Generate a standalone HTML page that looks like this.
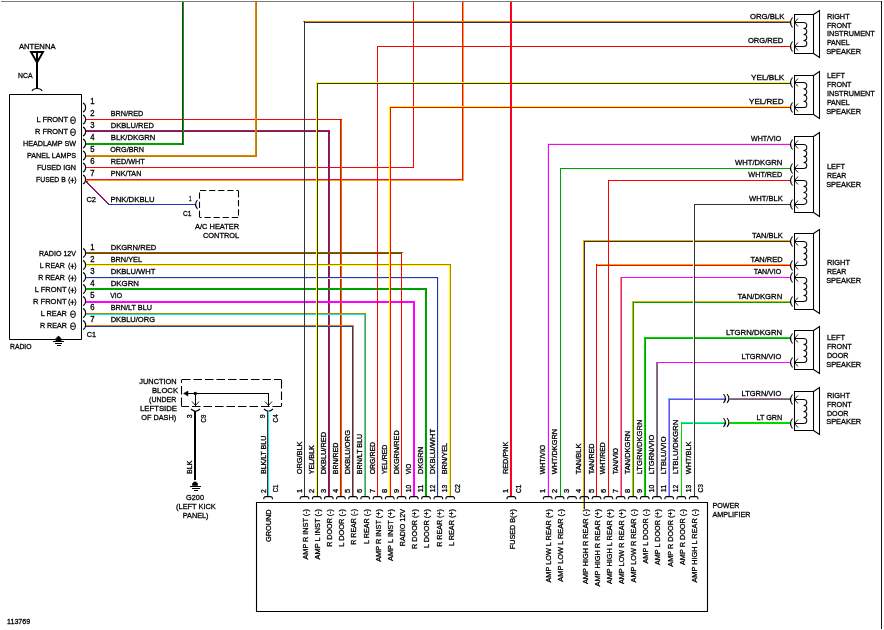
<!DOCTYPE html>
<html><head><meta charset="utf-8"><style>
html,body{margin:0;padding:0;background:#fff;}
svg{display:block;}
text{font-family:"Liberation Sans",Arial,sans-serif;fill:#000;}
.t text{stroke:#000;stroke-width:0.3px;}
rect{shape-rendering:crispEdges;}
</style></head><body>
<svg width="884" height="630" viewBox="0 0 884 630">
<rect width="884" height="630" fill="#fff"/>
<rect x="1" y="1" width="881" height="1" fill="#7a7a7a"/>
<rect x="881" y="1" width="1" height="628" fill="#111"/>
<path d="M31,52 L43,52 L37,62.5 Z" stroke="#000" stroke-width="1.9" fill="none" />
<rect x="36" y="52" width="1" height="37" fill="#000"/>
<rect x="37" y="52" width="1" height="37" fill="#000"/>
<path d="M32,91 Q33,88.5 37,88.5 Q41,88.5 42,91" stroke="#000" stroke-width="1.1" fill="none" />
<path d="M9.5,94.5 H81.5 V339.5 H9.5 Z" stroke="#000" stroke-width="1" fill="none" />
<path d="M56,341 L56,338.5 L58.5,336 L61,338.5 L61,341 Z" stroke="#000" stroke-width="0.8" fill="#000" />
<rect x="53" y="341" width="11" height="1" fill="#000"/>
<rect x="55" y="343" width="7" height="1" fill="#000"/>
<rect x="57" y="345" width="4" height="1" fill="#000"/>
<path d="M83,103.0 C86.5,104.5 86.5,110.5 83,112.0" stroke="#000" stroke-width="1.1" fill="none" />
<path d="M83,115.0 C86.5,116.5 86.5,122.5 83,124.0" stroke="#000" stroke-width="1.1" fill="none" />
<path d="M83,127.0 C86.5,128.5 86.5,134.5 83,136.0" stroke="#000" stroke-width="1.1" fill="none" />
<path d="M83,139.0 C86.5,140.5 86.5,146.5 83,148.0" stroke="#000" stroke-width="1.1" fill="none" />
<path d="M83,151.0 C86.5,152.5 86.5,158.5 83,160.0" stroke="#000" stroke-width="1.1" fill="none" />
<path d="M83,163.0 C86.5,164.5 86.5,170.5 83,172.0" stroke="#000" stroke-width="1.1" fill="none" />
<path d="M83,175.0 C86.5,176.5 86.5,182.5 83,184.0" stroke="#000" stroke-width="1.1" fill="none" />
<ellipse cx="73" cy="120.2" rx="2.4" ry="3.4" stroke="#000" stroke-width="1" fill="none"/>
<path d="M71,120.2 H74.6" stroke="#000" stroke-width="1"/>
<ellipse cx="73" cy="132.2" rx="2.4" ry="3.4" stroke="#000" stroke-width="1" fill="none"/>
<path d="M71,132.2 H74.6" stroke="#000" stroke-width="1"/>
<path d="M69.9,176.70000000000002 Q67.3,180.3 69.9,183.9 M74.7,176.70000000000002 Q77.3,180.3 74.7,183.9 M70.3,180.3 H74.4 M72.35,177.70000000000002 V182.9" stroke="#000" stroke-width="0.95" fill="none"/>
<path d="M83,248.5 C86.5,250 86.5,256 83,257.5" stroke="#000" stroke-width="1.1" fill="none" />
<path d="M83,260.5 C86.5,262 86.5,268 83,269.5" stroke="#000" stroke-width="1.1" fill="none" />
<path d="M83,272.5 C86.5,274 86.5,280 83,281.5" stroke="#000" stroke-width="1.1" fill="none" />
<path d="M83,284.5 C86.5,286 86.5,292 83,293.5" stroke="#000" stroke-width="1.1" fill="none" />
<path d="M83,296.5 C86.5,298 86.5,304 83,305.5" stroke="#000" stroke-width="1.1" fill="none" />
<path d="M83,308.5 C86.5,310 86.5,316 83,317.5" stroke="#000" stroke-width="1.1" fill="none" />
<path d="M83,320.5 C86.5,322 86.5,328 83,329.5" stroke="#000" stroke-width="1.1" fill="none" />
<path d="M69.9,262.7 Q67.3,266.3 69.9,269.90000000000003 M74.7,262.7 Q77.3,266.3 74.7,269.90000000000003 M70.3,266.3 H74.4 M72.35,263.7 V268.90000000000003" stroke="#000" stroke-width="0.95" fill="none"/>
<path d="M69.9,274.7 Q67.3,278.3 69.9,281.90000000000003 M74.7,274.7 Q77.3,278.3 74.7,281.90000000000003 M70.3,278.3 H74.4 M72.35,275.7 V280.90000000000003" stroke="#000" stroke-width="0.95" fill="none"/>
<path d="M69.9,286.7 Q67.3,290.3 69.9,293.90000000000003 M74.7,286.7 Q77.3,290.3 74.7,293.90000000000003 M70.3,290.3 H74.4 M72.35,287.7 V292.90000000000003" stroke="#000" stroke-width="0.95" fill="none"/>
<path d="M69.9,298.7 Q67.3,302.3 69.9,305.90000000000003 M74.7,298.7 Q77.3,302.3 74.7,305.90000000000003 M70.3,302.3 H74.4 M72.35,299.7 V304.90000000000003" stroke="#000" stroke-width="0.95" fill="none"/>
<ellipse cx="73" cy="314.2" rx="2.4" ry="3.4" stroke="#000" stroke-width="1" fill="none"/>
<path d="M71,314.2 H74.6" stroke="#000" stroke-width="1"/>
<ellipse cx="73" cy="326.2" rx="2.4" ry="3.4" stroke="#000" stroke-width="1" fill="none"/>
<path d="M71,326.2 H74.6" stroke="#000" stroke-width="1"/>
<rect x="86" y="119" width="256" height="1" fill="#ff0000"/>
<rect x="86" y="130" width="244" height="1" fill="#ff0000"/>
<rect x="86" y="131" width="243" height="1" fill="#1838c0"/>
<rect x="86" y="143" width="98" height="1" fill="#00a000"/>
<rect x="86" y="144" width="98" height="1" fill="#00a000"/>
<rect x="182" y="2" width="1" height="143" fill="#333333"/>
<rect x="183" y="2" width="1" height="143" fill="#00a000"/>
<rect x="86" y="155" width="170" height="1" fill="#e88000"/>
<rect x="86" y="156" width="171" height="1" fill="#b08000"/>
<rect x="255" y="2" width="1" height="154" fill="#e88000"/>
<rect x="256" y="2" width="1" height="155" fill="#b08000"/>
<rect x="86" y="167" width="328" height="1" fill="#ff0000"/>
<rect x="413" y="2" width="1" height="166" fill="#ff0000"/>
<rect x="86" y="179" width="377" height="1" fill="#ff0040"/>
<rect x="86" y="180" width="378" height="1" fill="#e8b000"/>
<rect x="462" y="2" width="1" height="178" fill="#ff0040"/>
<rect x="463" y="2" width="1" height="179" fill="#e8b000"/>
<rect x="340" y="119" width="1" height="378" fill="#ff0000"/>
<rect x="341" y="120" width="1" height="377" fill="#b08000"/>
<rect x="328" y="131" width="1" height="366" fill="#1838c0"/>
<rect x="329" y="130" width="1" height="367" fill="#ff0000"/>
<rect x="86" y="181" width="1" height="1" fill="#1838c0"/>
<rect x="87" y="181" width="1" height="1" fill="#ff0000"/>
<rect x="86" y="182" width="1" height="1" fill="#1838c0"/>
<rect x="87" y="182" width="1" height="1" fill="#ff0000"/>
<rect x="87" y="183" width="1" height="1" fill="#1838c0"/>
<rect x="88" y="183" width="1" height="1" fill="#ff0000"/>
<rect x="88" y="184" width="1" height="1" fill="#1838c0"/>
<rect x="89" y="184" width="1" height="1" fill="#ff0000"/>
<rect x="89" y="185" width="1" height="1" fill="#1838c0"/>
<rect x="90" y="185" width="1" height="1" fill="#ff0000"/>
<rect x="90" y="186" width="1" height="1" fill="#1838c0"/>
<rect x="91" y="186" width="1" height="1" fill="#ff0000"/>
<rect x="91" y="187" width="1" height="1" fill="#1838c0"/>
<rect x="92" y="187" width="1" height="1" fill="#ff0000"/>
<rect x="92" y="188" width="1" height="1" fill="#1838c0"/>
<rect x="93" y="188" width="1" height="1" fill="#ff0000"/>
<rect x="93" y="189" width="1" height="1" fill="#1838c0"/>
<rect x="94" y="189" width="1" height="1" fill="#ff0000"/>
<rect x="94" y="190" width="1" height="1" fill="#1838c0"/>
<rect x="95" y="190" width="1" height="1" fill="#ff0000"/>
<rect x="95" y="191" width="1" height="1" fill="#1838c0"/>
<rect x="96" y="191" width="1" height="1" fill="#ff0000"/>
<rect x="96" y="192" width="1" height="1" fill="#1838c0"/>
<rect x="97" y="192" width="1" height="1" fill="#ff0000"/>
<rect x="97" y="193" width="1" height="1" fill="#1838c0"/>
<rect x="98" y="193" width="1" height="1" fill="#ff0000"/>
<rect x="98" y="194" width="1" height="1" fill="#1838c0"/>
<rect x="99" y="194" width="1" height="1" fill="#ff0000"/>
<rect x="99" y="195" width="1" height="1" fill="#1838c0"/>
<rect x="100" y="195" width="1" height="1" fill="#ff0000"/>
<rect x="100" y="196" width="1" height="1" fill="#1838c0"/>
<rect x="101" y="196" width="1" height="1" fill="#ff0000"/>
<rect x="101" y="197" width="1" height="1" fill="#1838c0"/>
<rect x="102" y="197" width="1" height="1" fill="#ff0000"/>
<rect x="102" y="198" width="1" height="1" fill="#1838c0"/>
<rect x="103" y="198" width="1" height="1" fill="#ff0000"/>
<rect x="103" y="199" width="1" height="1" fill="#1838c0"/>
<rect x="104" y="199" width="1" height="1" fill="#ff0000"/>
<rect x="104" y="200" width="1" height="1" fill="#1838c0"/>
<rect x="105" y="200" width="1" height="1" fill="#ff0000"/>
<rect x="105" y="201" width="1" height="1" fill="#1838c0"/>
<rect x="106" y="201" width="1" height="1" fill="#ff0000"/>
<rect x="106" y="202" width="1" height="1" fill="#1838c0"/>
<rect x="107" y="202" width="1" height="1" fill="#ff0000"/>
<rect x="107" y="203" width="1" height="1" fill="#1838c0"/>
<rect x="108" y="203" width="1" height="1" fill="#ff0000"/>
<rect x="108" y="204" width="1" height="1" fill="#1838c0"/>
<rect x="109" y="204" width="1" height="1" fill="#ff0000"/>
<rect x="108" y="204" width="88" height="1" fill="#1838c0"/>
<path d="M199.5,190.5 L238.5,190.5" stroke="#000" stroke-width="1.1" fill="none" stroke-dasharray="6.2,2.9" stroke-dashoffset="-0.5"/>
<path d="M238.5,190.5 L238.5,217.5" stroke="#000" stroke-width="1.1" fill="none" stroke-dasharray="6.2,2.9" stroke-dashoffset="-0.5"/>
<path d="M238.5,217.5 L199.5,217.5" stroke="#000" stroke-width="1.1" fill="none" stroke-dasharray="6.2,2.9" stroke-dashoffset="-0.5"/>
<path d="M199.5,217.5 L199.5,190.5" stroke="#000" stroke-width="1.1" fill="none" stroke-dasharray="6.2,2.9" stroke-dashoffset="-0.5"/>
<path d="M197.5,200.0 Q193.5,204.5 197.5,209.0" stroke="#000" stroke-width="1.1" fill="none" />
<rect x="86" y="252" width="317" height="1" fill="#00a000"/>
<rect x="86" y="253" width="316" height="1" fill="#ff0000"/>
<rect x="86" y="264" width="365" height="1" fill="#b08000"/>
<rect x="86" y="265" width="364" height="1" fill="#ffff00"/>
<rect x="449" y="265" width="1" height="232" fill="#ffff00"/>
<rect x="450" y="264" width="1" height="233" fill="#b08000"/>
<rect x="86" y="277" width="353" height="1" fill="#1838c0"/>
<rect x="86" y="278" width="352" height="1" fill="#e6e6e6"/>
<rect x="437" y="277" width="1" height="220" fill="#1838c0"/>
<rect x="438" y="277" width="1" height="220" fill="#e6e6e6"/>
<rect x="86" y="288" width="341" height="1" fill="#00a000"/>
<rect x="86" y="289" width="341" height="1" fill="#00a000"/>
<rect x="425" y="288" width="1" height="209" fill="#00a000"/>
<rect x="426" y="288" width="1" height="209" fill="#00a000"/>
<rect x="86" y="301" width="329" height="1" fill="#ff00ff"/>
<rect x="86" y="302" width="329" height="1" fill="#ff00ff"/>
<rect x="413" y="301" width="1" height="196" fill="#ff00ff"/>
<rect x="414" y="301" width="1" height="196" fill="#ff00ff"/>
<rect x="86" y="313" width="280" height="1" fill="#b08000"/>
<rect x="86" y="314" width="279" height="1" fill="#00f0f0"/>
<rect x="364" y="314" width="1" height="183" fill="#00f0f0"/>
<rect x="365" y="313" width="1" height="184" fill="#b08000"/>
<rect x="86" y="325" width="268" height="1" fill="#e88000"/>
<rect x="86" y="326" width="267" height="1" fill="#1838c0"/>
<rect x="352" y="326" width="1" height="171" fill="#1838c0"/>
<rect x="353" y="325" width="1" height="172" fill="#e88000"/>
<rect x="401" y="253" width="1" height="244" fill="#ff0000"/>
<rect x="303" y="21" width="488" height="1" fill="#e88000"/>
<rect x="304" y="22" width="487" height="1" fill="#333333"/>
<rect x="304" y="21" width="1" height="476" fill="#333333"/>
<rect x="377" y="46" width="414" height="1" fill="#ff0000"/>
<rect x="377" y="46" width="1" height="451" fill="#ff0000"/>
<rect x="316" y="82" width="475" height="1" fill="#ffff00"/>
<rect x="317" y="83" width="474" height="1" fill="#333333"/>
<rect x="316" y="82" width="1" height="415" fill="#ffff00"/>
<rect x="317" y="83" width="1" height="414" fill="#333333"/>
<rect x="389" y="106" width="402" height="1" fill="#ffff00"/>
<rect x="390" y="107" width="401" height="1" fill="#ff0000"/>
<rect x="389" y="106" width="1" height="391" fill="#ffff00"/>
<rect x="390" y="107" width="1" height="390" fill="#ff0000"/>
<rect x="510" y="2" width="1" height="495" fill="#ff0000"/>
<rect x="511" y="2" width="1" height="495" fill="#ff0040"/>
<rect x="547" y="143" width="244" height="1" fill="#e6e6e6"/>
<rect x="548" y="144" width="243" height="1" fill="#ff00ff"/>
<rect x="547" y="143" width="1" height="354" fill="#e6e6e6"/>
<rect x="548" y="144" width="1" height="353" fill="#ff00ff"/>
<rect x="560" y="168" width="231" height="1" fill="#00a000"/>
<rect x="560" y="168" width="1" height="329" fill="#00a000"/>
<rect x="608" y="180" width="183" height="1" fill="#ff0000"/>
<rect x="694" y="204" width="97" height="1" fill="#333333"/>
<rect x="583" y="240" width="208" height="1" fill="#e8b000"/>
<rect x="584" y="241" width="207" height="1" fill="#333333"/>
<rect x="583" y="240" width="1" height="269" fill="#e8b000"/>
<rect x="584" y="241" width="1" height="268" fill="#333333"/>
<rect x="596" y="264" width="195" height="1" fill="#e8b000"/>
<rect x="596" y="265" width="195" height="1" fill="#ff0000"/>
<rect x="596" y="264" width="1" height="233" fill="#ff0000"/>
<rect x="620" y="277" width="171" height="1" fill="#ff00ff"/>
<rect x="620" y="277" width="1" height="220" fill="#e8b000"/>
<rect x="621" y="277" width="1" height="220" fill="#ff00ff"/>
<rect x="632" y="301" width="159" height="1" fill="#e8b000"/>
<rect x="633" y="302" width="158" height="1" fill="#00a000"/>
<rect x="632" y="301" width="1" height="196" fill="#e8b000"/>
<rect x="633" y="302" width="1" height="195" fill="#00a000"/>
<rect x="644" y="337" width="147" height="1" fill="#00d800"/>
<rect x="645" y="338" width="146" height="1" fill="#00a000"/>
<rect x="644" y="337" width="1" height="160" fill="#00d800"/>
<rect x="645" y="338" width="1" height="159" fill="#00a000"/>
<rect x="656" y="362" width="135" height="1" fill="#ff00ff"/>
<rect x="656" y="362" width="1" height="135" fill="#00d800"/>
<rect x="657" y="362" width="1" height="135" fill="#ff00ff"/>
<rect x="668" y="398" width="57" height="1" fill="#00f0f0"/>
<rect x="669" y="399" width="56" height="1" fill="#ff00ff"/>
<rect x="668" y="398" width="1" height="99" fill="#00f0f0"/>
<rect x="669" y="399" width="1" height="98" fill="#ff00ff"/>
<rect x="730" y="398" width="61" height="1" fill="#00d800"/>
<rect x="730" y="399" width="61" height="1" fill="#ff00ff"/>
<rect x="681" y="422" width="44" height="1" fill="#00f0f0"/>
<rect x="681" y="423" width="44" height="1" fill="#00d800"/>
<rect x="681" y="422" width="1" height="75" fill="#00d800"/>
<rect x="730" y="422" width="61" height="1" fill="#00d800"/>
<rect x="730" y="423" width="61" height="1" fill="#00d800"/>
<rect x="608" y="180" width="1" height="317" fill="#ff0000"/>
<rect x="693" y="205" width="1" height="292" fill="#fff"/>
<rect x="694" y="204" width="1" height="293" fill="#333333"/>
<path d="M723.5,394.0 Q727.5,398.5 723.5,403.0" stroke="#000" stroke-width="1.1" fill="none" />
<path d="M727,394.0 Q731,398.5 727,403.0" stroke="#000" stroke-width="1.1" fill="none" />
<path d="M723.5,418.0 Q727.5,422.5 723.5,427.0" stroke="#000" stroke-width="1.1" fill="none" />
<path d="M727,418.0 Q731,422.5 727,427.0" stroke="#000" stroke-width="1.1" fill="none" />
<path d="M794.5,14.5 H813.5 V53.5 H794.5 Z" stroke="#000" stroke-width="1.05" fill="none" />
<path d="M813.5,14.5 L819.5,10.5 L819.5,57.5 L813.5,53.5" stroke="#000" stroke-width="1.05" fill="none" />
<path d="M794.5,22.5 H803.5 a3.3,3.00 0 0 1 0,6.00 a3.3,3.00 0 0 1 0,6.00 a3.3,3.00 0 0 1 0,6.00 a3.3,3.00 0 0 1 0,6.00 H794.5" stroke="#000" stroke-width="1.05" fill="none" />
<path d="M792.5,17.5 Q788.5,22.5 792.5,27.5" stroke="#000" stroke-width="1.05" fill="none" />
<path d="M798,18.5 L794.5,22.5 L798,26.5" stroke="#000" stroke-width="0.9" fill="none" />
<path d="M792.5,41.5 Q788.5,46.5 792.5,51.5" stroke="#000" stroke-width="1.05" fill="none" />
<path d="M798,42.5 L794.5,46.5 L798,50.5" stroke="#000" stroke-width="0.9" fill="none" />
<path d="M794.5,75.5 H813.5 V114.5 H794.5 Z" stroke="#000" stroke-width="1.05" fill="none" />
<path d="M813.5,75.5 L819.5,71.5 L819.5,118.5 L813.5,114.5" stroke="#000" stroke-width="1.05" fill="none" />
<path d="M794.5,82.5 H803.5 a3.3,3.12 0 0 1 0,6.25 a3.3,3.12 0 0 1 0,6.25 a3.3,3.12 0 0 1 0,6.25 a3.3,3.12 0 0 1 0,6.25 H794.5" stroke="#000" stroke-width="1.05" fill="none" />
<path d="M792.5,77.5 Q788.5,82.5 792.5,87.5" stroke="#000" stroke-width="1.05" fill="none" />
<path d="M798,78.5 L794.5,82.5 L798,86.5" stroke="#000" stroke-width="0.9" fill="none" />
<path d="M792.5,102.5 Q788.5,107.5 792.5,112.5" stroke="#000" stroke-width="1.05" fill="none" />
<path d="M798,103.5 L794.5,107.5 L798,111.5" stroke="#000" stroke-width="0.9" fill="none" />
<path d="M794.5,136.5 H813.5 V212.5 H794.5 Z" stroke="#000" stroke-width="1.05" fill="none" />
<path d="M813.5,136.5 L819.5,132.5 L819.5,216.5 L813.5,212.5" stroke="#000" stroke-width="1.05" fill="none" />
<path d="M794.5,144.5 H803.5 a3.3,3.00 0 0 1 0,6.00 a3.3,3.00 0 0 1 0,6.00 a3.3,3.00 0 0 1 0,6.00 a3.3,3.00 0 0 1 0,6.00 H794.5" stroke="#000" stroke-width="1.05" fill="none" />
<path d="M792.5,139.5 Q788.5,144.5 792.5,149.5" stroke="#000" stroke-width="1.05" fill="none" />
<path d="M798,140.5 L794.5,144.5 L798,148.5" stroke="#000" stroke-width="0.9" fill="none" />
<path d="M792.5,163.5 Q788.5,168.5 792.5,173.5" stroke="#000" stroke-width="1.05" fill="none" />
<path d="M798,164.5 L794.5,168.5 L798,172.5" stroke="#000" stroke-width="0.9" fill="none" />
<path d="M794.5,180.5 H803.5 a3.3,3.00 0 0 1 0,6.00 a3.3,3.00 0 0 1 0,6.00 a3.3,3.00 0 0 1 0,6.00 a3.3,3.00 0 0 1 0,6.00 H794.5" stroke="#000" stroke-width="1.05" fill="none" />
<path d="M792.5,175.5 Q788.5,180.5 792.5,185.5" stroke="#000" stroke-width="1.05" fill="none" />
<path d="M798,176.5 L794.5,180.5 L798,184.5" stroke="#000" stroke-width="0.9" fill="none" />
<path d="M792.5,199.5 Q788.5,204.5 792.5,209.5" stroke="#000" stroke-width="1.05" fill="none" />
<path d="M798,200.5 L794.5,204.5 L798,208.5" stroke="#000" stroke-width="0.9" fill="none" />
<path d="M794.5,233.5 H813.5 V309.5 H794.5 Z" stroke="#000" stroke-width="1.05" fill="none" />
<path d="M813.5,233.5 L819.5,229.5 L819.5,313.5 L813.5,309.5" stroke="#000" stroke-width="1.05" fill="none" />
<path d="M794.5,241.5 H803.5 a3.3,3.00 0 0 1 0,6.00 a3.3,3.00 0 0 1 0,6.00 a3.3,3.00 0 0 1 0,6.00 a3.3,3.00 0 0 1 0,6.00 H794.5" stroke="#000" stroke-width="1.05" fill="none" />
<path d="M792.5,236.5 Q788.5,241.5 792.5,246.5" stroke="#000" stroke-width="1.05" fill="none" />
<path d="M798,237.5 L794.5,241.5 L798,245.5" stroke="#000" stroke-width="0.9" fill="none" />
<path d="M792.5,260.5 Q788.5,265.5 792.5,270.5" stroke="#000" stroke-width="1.05" fill="none" />
<path d="M798,261.5 L794.5,265.5 L798,269.5" stroke="#000" stroke-width="0.9" fill="none" />
<path d="M794.5,277.5 H803.5 a3.3,3.00 0 0 1 0,6.00 a3.3,3.00 0 0 1 0,6.00 a3.3,3.00 0 0 1 0,6.00 a3.3,3.00 0 0 1 0,6.00 H794.5" stroke="#000" stroke-width="1.05" fill="none" />
<path d="M792.5,272.5 Q788.5,277.5 792.5,282.5" stroke="#000" stroke-width="1.05" fill="none" />
<path d="M798,273.5 L794.5,277.5 L798,281.5" stroke="#000" stroke-width="0.9" fill="none" />
<path d="M792.5,296.5 Q788.5,301.5 792.5,306.5" stroke="#000" stroke-width="1.05" fill="none" />
<path d="M798,297.5 L794.5,301.5 L798,305.5" stroke="#000" stroke-width="0.9" fill="none" />
<path d="M794.5,330.5 H813.5 V369.5 H794.5 Z" stroke="#000" stroke-width="1.05" fill="none" />
<path d="M813.5,330.5 L819.5,326.5 L819.5,373.5 L813.5,369.5" stroke="#000" stroke-width="1.05" fill="none" />
<path d="M794.5,338.5 H803.5 a3.3,3.00 0 0 1 0,6.00 a3.3,3.00 0 0 1 0,6.00 a3.3,3.00 0 0 1 0,6.00 a3.3,3.00 0 0 1 0,6.00 H794.5" stroke="#000" stroke-width="1.05" fill="none" />
<path d="M792.5,333.5 Q788.5,338.5 792.5,343.5" stroke="#000" stroke-width="1.05" fill="none" />
<path d="M798,334.5 L794.5,338.5 L798,342.5" stroke="#000" stroke-width="0.9" fill="none" />
<path d="M792.5,357.5 Q788.5,362.5 792.5,367.5" stroke="#000" stroke-width="1.05" fill="none" />
<path d="M798,358.5 L794.5,362.5 L798,366.5" stroke="#000" stroke-width="0.9" fill="none" />
<path d="M794.5,391.5 H813.5 V430.5 H794.5 Z" stroke="#000" stroke-width="1.05" fill="none" />
<path d="M813.5,391.5 L819.5,387.5 L819.5,434.5 L813.5,430.5" stroke="#000" stroke-width="1.05" fill="none" />
<path d="M794.5,399.5 H803.5 a3.3,3.00 0 0 1 0,6.00 a3.3,3.00 0 0 1 0,6.00 a3.3,3.00 0 0 1 0,6.00 a3.3,3.00 0 0 1 0,6.00 H794.5" stroke="#000" stroke-width="1.05" fill="none" />
<path d="M792.5,394.5 Q788.5,399.5 792.5,404.5" stroke="#000" stroke-width="1.05" fill="none" />
<path d="M798,395.5 L794.5,399.5 L798,403.5" stroke="#000" stroke-width="0.9" fill="none" />
<path d="M792.5,418.5 Q788.5,423.5 792.5,428.5" stroke="#000" stroke-width="1.05" fill="none" />
<path d="M798,419.5 L794.5,423.5 L798,427.5" stroke="#000" stroke-width="0.9" fill="none" />
<path d="M181.5,379.5 L281.5,379.5" stroke="#000" stroke-width="1.1" fill="none" stroke-dasharray="8.5,3" stroke-dashoffset="-0.5"/>
<path d="M281.5,379.5 L281.5,406.5" stroke="#000" stroke-width="1.1" fill="none" stroke-dasharray="8.5,3" stroke-dashoffset="-0.5"/>
<path d="M281.5,406.5 L181.5,406.5" stroke="#000" stroke-width="1.1" fill="none" stroke-dasharray="8.5,3" stroke-dashoffset="-0.5"/>
<path d="M181.5,406.5 L181.5,379.5" stroke="#000" stroke-width="1.1" fill="none" stroke-dasharray="8.5,3" stroke-dashoffset="-0.5"/>
<rect x="186" y="393" width="83" height="1" fill="#000"/>
<path d="M183.5,393.5 L188,391 L188,396 Z" stroke="#000" stroke-width="0.5" fill="#000" />
<circle cx="195.3" cy="393.5" r="1.7" fill="#000"/>
<rect x="195" y="393" width="1" height="13" fill="#000"/>
<rect x="268" y="393" width="1" height="13" fill="#000"/>
<path d="M192.0,401.5 L195.5,405.5 L199.0,401.5" stroke="#000" stroke-width="0.9" fill="none" />
<path d="M191.0,409 Q195.5,413.5 200.0,409" stroke="#000" stroke-width="1.1" fill="none" />
<path d="M265.0,401.5 L268.5,405.5 L272.0,401.5" stroke="#000" stroke-width="0.9" fill="none" />
<path d="M264.0,409 Q268.5,413.5 273.0,409" stroke="#000" stroke-width="1.1" fill="none" />
<rect x="194" y="411" width="1" height="69" fill="#000"/>
<rect x="195" y="411" width="1" height="69" fill="#000"/>
<path d="M192.5,485.5 L192.5,483.5 Q195,480 197.5,483.5 L197.5,485.5 Z" stroke="#000" stroke-width="0.6" fill="#000" />
<rect x="190" y="486" width="11" height="1" fill="#000"/>
<rect x="192" y="488" width="8" height="1" fill="#000"/>
<rect x="194" y="490" width="4" height="1" fill="#000"/>
<rect x="267" y="411" width="1" height="86" fill="#333333"/>
<rect x="268" y="411" width="1" height="86" fill="#00f0f0"/>
<path d="M256.5,502.5 H707.5 V611.5 H256.5 Z" stroke="#000" stroke-width="1.1" fill="none" />
<path d="M263.8,499.2 L263.8,498 Q264.1,496.6 265.6,496.6 H270.6 Q272.1,496.6 272.40000000000003,498 L272.40000000000003,499.2" stroke="#000" stroke-width="1.1" fill="none" />
<path d="M300.2,499.2 L300.2,498 Q300.5,496.6 302.0,496.6 H307.0 Q308.5,496.6 308.8,498 L308.8,499.2" stroke="#000" stroke-width="1.1" fill="none" />
<path d="M312.5,499.2 L312.5,498 Q312.8,496.6 314.3,496.6 H319.3 Q320.8,496.6 321.1,498 L321.1,499.2" stroke="#000" stroke-width="1.1" fill="none" />
<path d="M324.5,499.2 L324.5,498 Q324.8,496.6 326.3,496.6 H331.3 Q332.8,496.6 333.1,498 L333.1,499.2" stroke="#000" stroke-width="1.1" fill="none" />
<path d="M336.59999999999997,499.2 L336.59999999999997,498 Q336.9,496.6 338.4,496.6 H343.4 Q344.9,496.6 345.2,498 L345.2,499.2" stroke="#000" stroke-width="1.1" fill="none" />
<path d="M348.7,499.2 L348.7,498 Q349,496.6 350.5,496.6 H355.5 Q357,496.6 357.3,498 L357.3,499.2" stroke="#000" stroke-width="1.1" fill="none" />
<path d="M360.9,499.2 L360.9,498 Q361.2,496.6 362.7,496.6 H367.7 Q369.2,496.6 369.5,498 L369.5,499.2" stroke="#000" stroke-width="1.1" fill="none" />
<path d="M373.2,499.2 L373.2,498 Q373.5,496.6 375.0,496.6 H380.0 Q381.5,496.6 381.8,498 L381.8,499.2" stroke="#000" stroke-width="1.1" fill="none" />
<path d="M385.4,499.2 L385.4,498 Q385.7,496.6 387.2,496.6 H392.2 Q393.7,496.6 394.0,498 L394.0,499.2" stroke="#000" stroke-width="1.1" fill="none" />
<path d="M397.2,499.2 L397.2,498 Q397.5,496.6 399.0,496.6 H404.0 Q405.5,496.6 405.8,498 L405.8,499.2" stroke="#000" stroke-width="1.1" fill="none" />
<path d="M409.5,499.2 L409.5,498 Q409.8,496.6 411.3,496.6 H416.3 Q417.8,496.6 418.1,498 L418.1,499.2" stroke="#000" stroke-width="1.1" fill="none" />
<path d="M421.7,499.2 L421.7,498 Q422,496.6 423.5,496.6 H428.5 Q430,496.6 430.3,498 L430.3,499.2" stroke="#000" stroke-width="1.1" fill="none" />
<path d="M434.0,499.2 L434.0,498 Q434.3,496.6 435.8,496.6 H440.8 Q442.3,496.6 442.6,498 L442.6,499.2" stroke="#000" stroke-width="1.1" fill="none" />
<path d="M445.9,499.2 L445.9,498 Q446.2,496.6 447.7,496.6 H452.7 Q454.2,496.6 454.5,498 L454.5,499.2" stroke="#000" stroke-width="1.1" fill="none" />
<path d="M507.0,499.2 L507.0,498 Q507.3,496.6 508.8,496.6 H513.8 Q515.3,496.6 515.6,498 L515.6,499.2" stroke="#000" stroke-width="1.1" fill="none" />
<path d="M543.4000000000001,499.2 L543.4000000000001,498 Q543.7,496.6 545.2,496.6 H550.2 Q551.7,496.6 552.0,498 L552.0,499.2" stroke="#000" stroke-width="1.1" fill="none" />
<path d="M555.3000000000001,499.2 L555.3000000000001,498 Q555.6,496.6 557.1,496.6 H562.1 Q563.6,496.6 563.9,498 L563.9,499.2" stroke="#000" stroke-width="1.1" fill="none" />
<path d="M567.7,499.2 L567.7,498 Q568,496.6 569.5,496.6 H574.5 Q576,496.6 576.3,498 L576.3,499.2" stroke="#000" stroke-width="1.1" fill="none" />
<path d="M580.0,499.2 L580.0,498 Q580.3,496.6 581.8,496.6 H586.8 Q588.3,496.6 588.5999999999999,498 L588.5999999999999,499.2" stroke="#000" stroke-width="1.1" fill="none" />
<path d="M592.2,499.2 L592.2,498 Q592.5,496.6 594.0,496.6 H599.0 Q600.5,496.6 600.8,498 L600.8,499.2" stroke="#000" stroke-width="1.1" fill="none" />
<path d="M604.1,499.2 L604.1,498 Q604.4,496.6 605.9,496.6 H610.9 Q612.4,496.6 612.6999999999999,498 L612.6999999999999,499.2" stroke="#000" stroke-width="1.1" fill="none" />
<path d="M616.3000000000001,499.2 L616.3000000000001,498 Q616.6,496.6 618.1,496.6 H623.1 Q624.6,496.6 624.9,498 L624.9,499.2" stroke="#000" stroke-width="1.1" fill="none" />
<path d="M628.3000000000001,499.2 L628.3000000000001,498 Q628.6,496.6 630.1,496.6 H635.1 Q636.6,496.6 636.9,498 L636.9,499.2" stroke="#000" stroke-width="1.1" fill="none" />
<path d="M640.4000000000001,499.2 L640.4000000000001,498 Q640.7,496.6 642.2,496.6 H647.2 Q648.7,496.6 649.0,498 L649.0,499.2" stroke="#000" stroke-width="1.1" fill="none" />
<path d="M652.6,499.2 L652.6,498 Q652.9,496.6 654.4,496.6 H659.4 Q660.9,496.6 661.1999999999999,498 L661.1999999999999,499.2" stroke="#000" stroke-width="1.1" fill="none" />
<path d="M664.9000000000001,499.2 L664.9000000000001,498 Q665.2,496.6 666.7,496.6 H671.7 Q673.2,496.6 673.5,498 L673.5,499.2" stroke="#000" stroke-width="1.1" fill="none" />
<path d="M677.0,499.2 L677.0,498 Q677.3,496.6 678.8,496.6 H683.8 Q685.3,496.6 685.5999999999999,498 L685.5999999999999,499.2" stroke="#000" stroke-width="1.1" fill="none" />
<path d="M689.4000000000001,499.2 L689.4000000000001,498 Q689.7,496.6 691.2,496.6 H696.2 Q697.7,496.6 698.0,498 L698.0,499.2" stroke="#000" stroke-width="1.1" fill="none" />
<g class="t"><text x="19" y="49" font-size="8" textLength="36.5" lengthAdjust="spacingAndGlyphs">ANTENNA</text>
<text x="18" y="77.8" font-size="8" textLength="14.5" lengthAdjust="spacingAndGlyphs">NCA</text>
<text x="10" y="348.6" font-size="8" textLength="21.5" lengthAdjust="spacingAndGlyphs">RADIO</text>
<text x="90.3" y="104.1" font-size="8.2" textLength="4.3" lengthAdjust="spacingAndGlyphs">1</text>
<text x="90.3" y="116.1" font-size="8.2" textLength="4.3" lengthAdjust="spacingAndGlyphs">2</text>
<text x="90.3" y="128.1" font-size="8.2" textLength="4.3" lengthAdjust="spacingAndGlyphs">3</text>
<text x="90.3" y="140.1" font-size="8.2" textLength="4.3" lengthAdjust="spacingAndGlyphs">4</text>
<text x="90.3" y="152.1" font-size="8.2" textLength="4.3" lengthAdjust="spacingAndGlyphs">5</text>
<text x="90.3" y="164.1" font-size="8.2" textLength="4.3" lengthAdjust="spacingAndGlyphs">6</text>
<text x="90.3" y="176.1" font-size="8.2" textLength="4.3" lengthAdjust="spacingAndGlyphs">7</text>
<text x="36.5" y="122" font-size="8" textLength="31.5" lengthAdjust="spacingAndGlyphs">L FRONT</text>
<text x="35" y="134" font-size="8" textLength="33.0" lengthAdjust="spacingAndGlyphs">R FRONT</text>
<text x="23" y="146" font-size="8" textLength="53.0" lengthAdjust="spacingAndGlyphs">HEADLAMP SW</text>
<text x="27" y="158" font-size="8" textLength="49.0" lengthAdjust="spacingAndGlyphs">PANEL LAMPS</text>
<text x="37" y="170" font-size="8" textLength="39.0" lengthAdjust="spacingAndGlyphs">FUSED IGN</text>
<text x="36.1" y="182" font-size="8" textLength="29.7" lengthAdjust="spacingAndGlyphs">FUSED B</text>
<text x="110.8" y="115.8" font-size="8" textLength="32.4" lengthAdjust="spacingAndGlyphs">BRN/RED</text>
<text x="110.8" y="127.8" font-size="8" textLength="43.2" lengthAdjust="spacingAndGlyphs">DKBLU/RED</text>
<text x="110.8" y="139.8" font-size="8" textLength="44.5" lengthAdjust="spacingAndGlyphs">BLK/DKGRN</text>
<text x="110.2" y="151.8" font-size="8" textLength="33.7" lengthAdjust="spacingAndGlyphs">ORG/BRN</text>
<text x="110.8" y="163.8" font-size="8" textLength="33.9" lengthAdjust="spacingAndGlyphs">RED/WHT</text>
<text x="110.8" y="175.8" font-size="8" textLength="30.5" lengthAdjust="spacingAndGlyphs">PNK/TAN</text>
<text x="86.4" y="202" font-size="8" textLength="9.6" lengthAdjust="spacingAndGlyphs">C2</text>
<text x="110.5" y="201.8" font-size="8" textLength="44.0" lengthAdjust="spacingAndGlyphs">PNK/DKBLU</text>
<text x="90.3" y="249.9" font-size="8.2" textLength="4.3" lengthAdjust="spacingAndGlyphs">1</text>
<text x="90.3" y="261.9" font-size="8.2" textLength="4.3" lengthAdjust="spacingAndGlyphs">2</text>
<text x="90.3" y="273.9" font-size="8.2" textLength="4.3" lengthAdjust="spacingAndGlyphs">3</text>
<text x="90.3" y="285.9" font-size="8.2" textLength="4.3" lengthAdjust="spacingAndGlyphs">4</text>
<text x="90.3" y="297.9" font-size="8.2" textLength="4.3" lengthAdjust="spacingAndGlyphs">5</text>
<text x="90.3" y="309.9" font-size="8.2" textLength="4.3" lengthAdjust="spacingAndGlyphs">6</text>
<text x="90.3" y="321.9" font-size="8.2" textLength="4.3" lengthAdjust="spacingAndGlyphs">7</text>
<text x="39" y="256" font-size="8" textLength="37.0" lengthAdjust="spacingAndGlyphs">RADIO 12V</text>
<text x="39.7" y="268" font-size="8" textLength="25.2" lengthAdjust="spacingAndGlyphs">L REAR</text>
<text x="38.2" y="280" font-size="8" textLength="26.7" lengthAdjust="spacingAndGlyphs">R REAR</text>
<text x="34.7" y="292" font-size="8" textLength="31.8" lengthAdjust="spacingAndGlyphs">L FRONT</text>
<text x="33" y="304" font-size="8" textLength="33.5" lengthAdjust="spacingAndGlyphs">R FRONT</text>
<text x="40.7" y="316" font-size="8" textLength="26.2" lengthAdjust="spacingAndGlyphs">L REAR</text>
<text x="39.9" y="328" font-size="8" textLength="27.0" lengthAdjust="spacingAndGlyphs">R REAR</text>
<text x="110.7" y="249.8" font-size="8" textLength="45.5" lengthAdjust="spacingAndGlyphs">DKGRN/RED</text>
<text x="110.7" y="261.8" font-size="8" textLength="31.3" lengthAdjust="spacingAndGlyphs">BRN/YEL</text>
<text x="110.7" y="273.8" font-size="8" textLength="44.7" lengthAdjust="spacingAndGlyphs">DKBLU/WHT</text>
<text x="110.7" y="285.8" font-size="8" textLength="28.3" lengthAdjust="spacingAndGlyphs">DKGRN</text>
<text x="110.2" y="297.8" font-size="8" textLength="11.8" lengthAdjust="spacingAndGlyphs">VIO</text>
<text x="110.7" y="309.8" font-size="8" textLength="41.3" lengthAdjust="spacingAndGlyphs">BRN/LT BLU</text>
<text x="110.7" y="321.8" font-size="8" textLength="44.3" lengthAdjust="spacingAndGlyphs">DKBLU/ORG</text>
<text x="86.7" y="337" font-size="8" textLength="9.3" lengthAdjust="spacingAndGlyphs">C1</text>
<text x="189" y="200.8" font-size="8" textLength="2.5" lengthAdjust="spacingAndGlyphs">1</text>
<text x="183" y="215.6" font-size="8" textLength="8.5" lengthAdjust="spacingAndGlyphs">C1</text>
<text x="195" y="229" font-size="8" textLength="44.2" lengthAdjust="spacingAndGlyphs">A/C HEATER</text>
<text x="203" y="237.7" font-size="8" textLength="36.2" lengthAdjust="spacingAndGlyphs">CONTROL</text>
<text x="750" y="18.8" font-size="8" textLength="34.3" lengthAdjust="spacingAndGlyphs">ORG/BLK</text>
<text x="747.9" y="42.8" font-size="8" textLength="35.4" lengthAdjust="spacingAndGlyphs">ORG/RED</text>
<text x="751" y="80.2" font-size="8" textLength="33.3" lengthAdjust="spacingAndGlyphs">YEL/BLK</text>
<text x="749" y="104" font-size="8" textLength="34.5" lengthAdjust="spacingAndGlyphs">YEL/RED</text>
<text x="751" y="140.6" font-size="8" textLength="30.2" lengthAdjust="spacingAndGlyphs">WHT/VIO</text>
<text x="735" y="165" font-size="8" textLength="47.2" lengthAdjust="spacingAndGlyphs">WHT/DKGRN</text>
<text x="748.3" y="177" font-size="8" textLength="33.9" lengthAdjust="spacingAndGlyphs">WHT/RED</text>
<text x="749" y="201" font-size="8" textLength="33.8" lengthAdjust="spacingAndGlyphs">WHT/BLK</text>
<text x="752" y="237.8" font-size="8" textLength="30.8" lengthAdjust="spacingAndGlyphs">TAN/BLK</text>
<text x="750.4" y="261.8" font-size="8" textLength="32.2" lengthAdjust="spacingAndGlyphs">TAN/RED</text>
<text x="753.7" y="273.8" font-size="8" textLength="27.5" lengthAdjust="spacingAndGlyphs">TAN/VIO</text>
<text x="737.5" y="299" font-size="8" textLength="44.7" lengthAdjust="spacingAndGlyphs">TAN/DKGRN</text>
<text x="726" y="335" font-size="8" textLength="56.2" lengthAdjust="spacingAndGlyphs">LTGRN/DKGRN</text>
<text x="741.6" y="359.1" font-size="8" textLength="39.6" lengthAdjust="spacingAndGlyphs">LTGRN/VIO</text>
<text x="741.6" y="396" font-size="8" textLength="39.6" lengthAdjust="spacingAndGlyphs">LTGRN/VIO</text>
<text x="756.6" y="420" font-size="8" textLength="25.6" lengthAdjust="spacingAndGlyphs">LT GRN</text>
<text x="826.9" y="19" font-size="8" textLength="22.7" lengthAdjust="spacingAndGlyphs">RIGHT</text>
<text x="826.9" y="27.7" font-size="8" textLength="24.6" lengthAdjust="spacingAndGlyphs">FRONT</text>
<text x="826.9" y="35.7" font-size="8" textLength="47.9" lengthAdjust="spacingAndGlyphs">INSTRUMENT</text>
<text x="826.9" y="44.8" font-size="8" textLength="22.8" lengthAdjust="spacingAndGlyphs">PANEL</text>
<text x="826.2" y="53.7" font-size="8" textLength="34.9" lengthAdjust="spacingAndGlyphs">SPEAKER</text>
<text x="826.9" y="77.8" font-size="8" textLength="18.0" lengthAdjust="spacingAndGlyphs">LEFT</text>
<text x="826.9" y="86.7" font-size="8" textLength="24.6" lengthAdjust="spacingAndGlyphs">FRONT</text>
<text x="826.9" y="95.7" font-size="8" textLength="47.9" lengthAdjust="spacingAndGlyphs">INSTRUMENT</text>
<text x="826.9" y="104.8" font-size="8" textLength="22.8" lengthAdjust="spacingAndGlyphs">PANEL</text>
<text x="826.2" y="113.8" font-size="8" textLength="34.9" lengthAdjust="spacingAndGlyphs">SPEAKER</text>
<text x="826.9" y="168.9" font-size="8" textLength="18.0" lengthAdjust="spacingAndGlyphs">LEFT</text>
<text x="826.9" y="177.8" font-size="8" textLength="19.3" lengthAdjust="spacingAndGlyphs">REAR</text>
<text x="826.2" y="186.8" font-size="8" textLength="34.9" lengthAdjust="spacingAndGlyphs">SPEAKER</text>
<text x="826.9" y="264.9" font-size="8" textLength="23.1" lengthAdjust="spacingAndGlyphs">RIGHT</text>
<text x="826.9" y="273.9" font-size="8" textLength="19.3" lengthAdjust="spacingAndGlyphs">REAR</text>
<text x="826.2" y="282.9" font-size="8" textLength="34.9" lengthAdjust="spacingAndGlyphs">SPEAKER</text>
<text x="826.9" y="339.9" font-size="8" textLength="18.0" lengthAdjust="spacingAndGlyphs">LEFT</text>
<text x="826.9" y="348.9" font-size="8" textLength="24.9" lengthAdjust="spacingAndGlyphs">FRONT</text>
<text x="826.9" y="357.9" font-size="8" textLength="21.5" lengthAdjust="spacingAndGlyphs">DOOR</text>
<text x="826.2" y="367" font-size="8" textLength="35.0" lengthAdjust="spacingAndGlyphs">SPEAKER</text>
<text x="826.9" y="397.9" font-size="8" textLength="23.1" lengthAdjust="spacingAndGlyphs">RIGHT</text>
<text x="826.9" y="406.9" font-size="8" textLength="24.9" lengthAdjust="spacingAndGlyphs">FRONT</text>
<text x="826.9" y="415.9" font-size="8" textLength="21.5" lengthAdjust="spacingAndGlyphs">DOOR</text>
<text x="826.2" y="424.1" font-size="8" textLength="35.0" lengthAdjust="spacingAndGlyphs">SPEAKER</text>
<text x="139.3" y="384" font-size="8" textLength="37.3" lengthAdjust="spacingAndGlyphs">JUNCTION</text>
<text x="152" y="393" font-size="8" textLength="26.0" lengthAdjust="spacingAndGlyphs">BLOCK</text>
<text x="149.1" y="402" font-size="8" textLength="27.2" lengthAdjust="spacingAndGlyphs">(UNDER</text>
<text x="140" y="411" font-size="8" textLength="37.0" lengthAdjust="spacingAndGlyphs">LEFTSIDE</text>
<text x="141.2" y="420" font-size="8" textLength="35.0" lengthAdjust="spacingAndGlyphs">OF DASH)</text>
<text x="186.1" y="499.5" font-size="8" textLength="17.9" lengthAdjust="spacingAndGlyphs">G200</text>
<text x="176.1" y="509.3" font-size="8" textLength="39.7" lengthAdjust="spacingAndGlyphs">(LEFT KICK</text>
<text x="182.8" y="517.8" font-size="8" textLength="25.7" lengthAdjust="spacingAndGlyphs">PANEL)</text>
<text transform="translate(192.2,418.2) rotate(-90)" x="0" y="0" font-size="7.6" textLength="3.9" lengthAdjust="spacingAndGlyphs">3</text>
<text transform="translate(205.5,422.4) rotate(-90)" x="0" y="0" font-size="7.6" textLength="7.6" lengthAdjust="spacingAndGlyphs">C9</text>
<text transform="translate(192.2,474) rotate(-90)" x="0" y="0" font-size="7.0" textLength="13.4" lengthAdjust="spacingAndGlyphs">BLK</text>
<text transform="translate(264.8,418.2) rotate(-90)" x="0" y="0" font-size="7.6" textLength="3.9" lengthAdjust="spacingAndGlyphs">9</text>
<text transform="translate(278.1,422.4) rotate(-90)" x="0" y="0" font-size="7.6" textLength="8.1" lengthAdjust="spacingAndGlyphs">C4</text>
<text transform="translate(265.9,474) rotate(-90)" x="0" y="0" font-size="7.0" textLength="38.2" lengthAdjust="spacingAndGlyphs">BLK/LT BLU</text>
<text transform="translate(265.9,493) rotate(-90)" x="0" y="0" font-size="7.6" textLength="3.8" lengthAdjust="spacingAndGlyphs">2</text>
<text transform="translate(278,492.3) rotate(-90)" x="0" y="0" font-size="7.6" textLength="7.6" lengthAdjust="spacingAndGlyphs">C1</text>
<text x="712.6" y="508" font-size="8" textLength="26.8" lengthAdjust="spacingAndGlyphs">POWER</text>
<text x="712.6" y="516.7" font-size="8" textLength="37.8" lengthAdjust="spacingAndGlyphs">AMPLIFIER</text>
<text transform="translate(270.9,542) rotate(-90)" x="0" y="0" font-size="8" textLength="32.5" lengthAdjust="spacingAndGlyphs">GROUND</text>
<text transform="translate(301.6,493) rotate(-90)" x="0" y="0" font-size="7.6" textLength="4.1" lengthAdjust="spacingAndGlyphs">1</text>
<text transform="translate(301.5,474.3) rotate(-90)" x="0" y="0" font-size="7.0" textLength="32.8" lengthAdjust="spacingAndGlyphs">ORG/BLK</text>
<text transform="translate(307.8,559.5) rotate(-90)" x="0" y="0" font-size="8" textLength="50.5" lengthAdjust="spacingAndGlyphs">AMP R INST (-)</text>
<text transform="translate(313.90000000000003,493) rotate(-90)" x="0" y="0" font-size="7.6" textLength="4.1" lengthAdjust="spacingAndGlyphs">2</text>
<text transform="translate(313.8,474.3) rotate(-90)" x="0" y="0" font-size="7.0" textLength="29.1" lengthAdjust="spacingAndGlyphs">YEL/BLK</text>
<text transform="translate(320.1,559.5) rotate(-90)" x="0" y="0" font-size="8" textLength="50.5" lengthAdjust="spacingAndGlyphs">AMP L INST (-)</text>
<text transform="translate(325.90000000000003,493) rotate(-90)" x="0" y="0" font-size="7.6" textLength="4.1" lengthAdjust="spacingAndGlyphs">3</text>
<text transform="translate(325.8,474.3) rotate(-90)" x="0" y="0" font-size="7.0" textLength="42.3" lengthAdjust="spacingAndGlyphs">DKBLU/RED</text>
<text transform="translate(332.1,546.8) rotate(-90)" x="0" y="0" font-size="8" textLength="37.8" lengthAdjust="spacingAndGlyphs">R DOOR (-)</text>
<text transform="translate(338.0,493) rotate(-90)" x="0" y="0" font-size="7.6" textLength="4.1" lengthAdjust="spacingAndGlyphs">4</text>
<text transform="translate(337.9,474.3) rotate(-90)" x="0" y="0" font-size="7.0" textLength="31.6" lengthAdjust="spacingAndGlyphs">BRN/RED</text>
<text transform="translate(344.2,546.8) rotate(-90)" x="0" y="0" font-size="8" textLength="37.8" lengthAdjust="spacingAndGlyphs">L DOOR (-)</text>
<text transform="translate(350.1,493) rotate(-90)" x="0" y="0" font-size="7.6" textLength="4.1" lengthAdjust="spacingAndGlyphs">5</text>
<text transform="translate(350,474.3) rotate(-90)" x="0" y="0" font-size="7.0" textLength="44.3" lengthAdjust="spacingAndGlyphs">DKBLU/ORG</text>
<text transform="translate(356.3,544.8) rotate(-90)" x="0" y="0" font-size="8" textLength="35.8" lengthAdjust="spacingAndGlyphs">R REAR (-)</text>
<text transform="translate(362.3,493) rotate(-90)" x="0" y="0" font-size="7.6" textLength="4.1" lengthAdjust="spacingAndGlyphs">6</text>
<text transform="translate(362.2,474.3) rotate(-90)" x="0" y="0" font-size="7.0" textLength="40.5" lengthAdjust="spacingAndGlyphs">BRN/LT BLU</text>
<text transform="translate(368.5,544) rotate(-90)" x="0" y="0" font-size="8" textLength="35.0" lengthAdjust="spacingAndGlyphs">L REAR (-)</text>
<text transform="translate(374.6,493) rotate(-90)" x="0" y="0" font-size="7.6" textLength="4.1" lengthAdjust="spacingAndGlyphs">7</text>
<text transform="translate(374.5,474.3) rotate(-90)" x="0" y="0" font-size="7.0" textLength="32.3" lengthAdjust="spacingAndGlyphs">ORG/RED</text>
<text transform="translate(380.8,561.8) rotate(-90)" x="0" y="0" font-size="8" textLength="52.8" lengthAdjust="spacingAndGlyphs">AMP R INST (+)</text>
<text transform="translate(386.8,493) rotate(-90)" x="0" y="0" font-size="7.6" textLength="4.1" lengthAdjust="spacingAndGlyphs">8</text>
<text transform="translate(386.7,474.3) rotate(-90)" x="0" y="0" font-size="7.0" textLength="29.6" lengthAdjust="spacingAndGlyphs">YEL/RED</text>
<text transform="translate(393.0,561) rotate(-90)" x="0" y="0" font-size="8" textLength="52.0" lengthAdjust="spacingAndGlyphs">AMP L INST (+)</text>
<text transform="translate(398.6,493) rotate(-90)" x="0" y="0" font-size="7.6" textLength="4.1" lengthAdjust="spacingAndGlyphs">9</text>
<text transform="translate(398.5,474.3) rotate(-90)" x="0" y="0" font-size="7.0" textLength="44.1" lengthAdjust="spacingAndGlyphs">DKGRN/RED</text>
<text transform="translate(404.8,546.2) rotate(-90)" x="0" y="0" font-size="8" textLength="37.2" lengthAdjust="spacingAndGlyphs">RADIO 12V</text>
<text transform="translate(410.90000000000003,492.3) rotate(-90)" x="0" y="0" font-size="7.6" textLength="7.4" lengthAdjust="spacingAndGlyphs">10</text>
<text transform="translate(410.8,474.3) rotate(-90)" x="0" y="0" font-size="7.0" textLength="10.5" lengthAdjust="spacingAndGlyphs">VIO</text>
<text transform="translate(417.1,548.9) rotate(-90)" x="0" y="0" font-size="8" textLength="39.9" lengthAdjust="spacingAndGlyphs">R DOOR (+)</text>
<text transform="translate(423.1,492.3) rotate(-90)" x="0" y="0" font-size="7.6" textLength="7.4" lengthAdjust="spacingAndGlyphs">11</text>
<text transform="translate(423,474.3) rotate(-90)" x="0" y="0" font-size="7.0" textLength="27.7" lengthAdjust="spacingAndGlyphs">DKGRN</text>
<text transform="translate(429.3,548) rotate(-90)" x="0" y="0" font-size="8" textLength="39.0" lengthAdjust="spacingAndGlyphs">L DOOR (+)</text>
<text transform="translate(435.40000000000003,492.3) rotate(-90)" x="0" y="0" font-size="7.6" textLength="7.4" lengthAdjust="spacingAndGlyphs">12</text>
<text transform="translate(435.3,474.3) rotate(-90)" x="0" y="0" font-size="7.0" textLength="45.4" lengthAdjust="spacingAndGlyphs">DKBLU/WHT</text>
<text transform="translate(441.6,546.8) rotate(-90)" x="0" y="0" font-size="8" textLength="37.8" lengthAdjust="spacingAndGlyphs">R REAR (+)</text>
<text transform="translate(447.3,492.3) rotate(-90)" x="0" y="0" font-size="7.6" textLength="7.4" lengthAdjust="spacingAndGlyphs">13</text>
<text transform="translate(447.2,474.3) rotate(-90)" x="0" y="0" font-size="7.0" textLength="31.5" lengthAdjust="spacingAndGlyphs">BRN/YEL</text>
<text transform="translate(453.5,546) rotate(-90)" x="0" y="0" font-size="8" textLength="37.0" lengthAdjust="spacingAndGlyphs">L REAR (+)</text>
<text transform="translate(460.4,493) rotate(-90)" x="0" y="0" font-size="7.6" textLength="8.9" lengthAdjust="spacingAndGlyphs">C2</text>
<text transform="translate(508.40000000000003,493) rotate(-90)" x="0" y="0" font-size="7.6" textLength="4.1" lengthAdjust="spacingAndGlyphs">1</text>
<text transform="translate(521,493) rotate(-90)" x="0" y="0" font-size="7.6" textLength="8.2" lengthAdjust="spacingAndGlyphs">C1</text>
<text transform="translate(508.4,474) rotate(-90)" x="0" y="0" font-size="7.0" textLength="32.4" lengthAdjust="spacingAndGlyphs">RED/PNK</text>
<text transform="translate(515.1,549.2) rotate(-90)" x="0" y="0" font-size="8" textLength="40.2" lengthAdjust="spacingAndGlyphs">FUSED B(+)</text>
<text transform="translate(544.8000000000001,493) rotate(-90)" x="0" y="0" font-size="7.6" textLength="4.1" lengthAdjust="spacingAndGlyphs">1</text>
<text transform="translate(544.7,474.3) rotate(-90)" x="0" y="0" font-size="7.0" textLength="29.5" lengthAdjust="spacingAndGlyphs">WHT/VIO</text>
<text transform="translate(551.1,582.5) rotate(-90)" x="0" y="0" font-size="8" textLength="73.5" lengthAdjust="spacingAndGlyphs">AMP LOW L REAR (+)</text>
<text transform="translate(556.7,493) rotate(-90)" x="0" y="0" font-size="7.6" textLength="4.1" lengthAdjust="spacingAndGlyphs">2</text>
<text transform="translate(556.6,474.3) rotate(-90)" x="0" y="0" font-size="7.0" textLength="45.4" lengthAdjust="spacingAndGlyphs">WHT/DKGRN</text>
<text transform="translate(563.0,581.7) rotate(-90)" x="0" y="0" font-size="8" textLength="72.7" lengthAdjust="spacingAndGlyphs">AMP LOW L REAR (-)</text>
<text transform="translate(569.1,493) rotate(-90)" x="0" y="0" font-size="7.6" textLength="4.1" lengthAdjust="spacingAndGlyphs">3</text>
<text transform="translate(581.4,493) rotate(-90)" x="0" y="0" font-size="7.6" textLength="4.1" lengthAdjust="spacingAndGlyphs">4</text>
<text transform="translate(581.3,474.3) rotate(-90)" x="0" y="0" font-size="7.0" textLength="30.8" lengthAdjust="spacingAndGlyphs">TAN/BLK</text>
<text transform="translate(587.6999999999999,584.1) rotate(-90)" x="0" y="0" font-size="8" textLength="75.1" lengthAdjust="spacingAndGlyphs">AMP HIGH R REAR (-)</text>
<text transform="translate(593.6,493) rotate(-90)" x="0" y="0" font-size="7.6" textLength="4.1" lengthAdjust="spacingAndGlyphs">5</text>
<text transform="translate(593.5,474.3) rotate(-90)" x="0" y="0" font-size="7.0" textLength="30.8" lengthAdjust="spacingAndGlyphs">TAN/RED</text>
<text transform="translate(599.9,586.5) rotate(-90)" x="0" y="0" font-size="8" textLength="77.5" lengthAdjust="spacingAndGlyphs">AMP HIGH R REAR (+)</text>
<text transform="translate(605.5,493) rotate(-90)" x="0" y="0" font-size="7.6" textLength="4.1" lengthAdjust="spacingAndGlyphs">6</text>
<text transform="translate(605.4,474.3) rotate(-90)" x="0" y="0" font-size="7.0" textLength="32.1" lengthAdjust="spacingAndGlyphs">WHT/RED</text>
<text transform="translate(611.8,584.1) rotate(-90)" x="0" y="0" font-size="8" textLength="75.1" lengthAdjust="spacingAndGlyphs">AMP HIGH L REAR (+)</text>
<text transform="translate(617.7,493) rotate(-90)" x="0" y="0" font-size="7.6" textLength="4.1" lengthAdjust="spacingAndGlyphs">7</text>
<text transform="translate(617.6,474.3) rotate(-90)" x="0" y="0" font-size="7.0" textLength="26.3" lengthAdjust="spacingAndGlyphs">TAN/VIO</text>
<text transform="translate(624.0,584.1) rotate(-90)" x="0" y="0" font-size="8" textLength="75.1" lengthAdjust="spacingAndGlyphs">AMP LOW R REAR (+)</text>
<text transform="translate(629.7,493) rotate(-90)" x="0" y="0" font-size="7.6" textLength="4.1" lengthAdjust="spacingAndGlyphs">8</text>
<text transform="translate(629.6,474.3) rotate(-90)" x="0" y="0" font-size="7.0" textLength="43.5" lengthAdjust="spacingAndGlyphs">TAN/DKGRN</text>
<text transform="translate(636.0,582.5) rotate(-90)" x="0" y="0" font-size="8" textLength="73.5" lengthAdjust="spacingAndGlyphs">AMP LOW R REAR (-)</text>
<text transform="translate(641.8000000000001,493) rotate(-90)" x="0" y="0" font-size="7.6" textLength="4.1" lengthAdjust="spacingAndGlyphs">9</text>
<text transform="translate(641.7,474.3) rotate(-90)" x="0" y="0" font-size="7.0" textLength="54.8" lengthAdjust="spacingAndGlyphs">LTGRN/DKGRN</text>
<text transform="translate(648.1,563.5) rotate(-90)" x="0" y="0" font-size="8" textLength="54.5" lengthAdjust="spacingAndGlyphs">AMP L DOOR (-)</text>
<text transform="translate(654.0,492.3) rotate(-90)" x="0" y="0" font-size="7.6" textLength="7.4" lengthAdjust="spacingAndGlyphs">10</text>
<text transform="translate(653.9,474.3) rotate(-90)" x="0" y="0" font-size="7.0" textLength="39.7" lengthAdjust="spacingAndGlyphs">LTGRN/VIO</text>
<text transform="translate(660.3,565) rotate(-90)" x="0" y="0" font-size="8" textLength="56.0" lengthAdjust="spacingAndGlyphs">AMP L DOOR (+)</text>
<text transform="translate(666.3000000000001,492.3) rotate(-90)" x="0" y="0" font-size="7.6" textLength="7.4" lengthAdjust="spacingAndGlyphs">11</text>
<text transform="translate(666.2,474.3) rotate(-90)" x="0" y="0" font-size="7.0" textLength="37.8" lengthAdjust="spacingAndGlyphs">LTBLU/VIO</text>
<text transform="translate(672.6,566.7) rotate(-90)" x="0" y="0" font-size="8" textLength="57.7" lengthAdjust="spacingAndGlyphs">AMP R DOOR (+)</text>
<text transform="translate(678.4,492.3) rotate(-90)" x="0" y="0" font-size="7.6" textLength="7.4" lengthAdjust="spacingAndGlyphs">12</text>
<text transform="translate(678.3,474.3) rotate(-90)" x="0" y="0" font-size="7.0" textLength="54.8" lengthAdjust="spacingAndGlyphs">LTBLU/DKGRN</text>
<text transform="translate(684.6999999999999,565) rotate(-90)" x="0" y="0" font-size="8" textLength="56.0" lengthAdjust="spacingAndGlyphs">AMP R DOOR (-)</text>
<text transform="translate(690.8000000000001,492.3) rotate(-90)" x="0" y="0" font-size="7.6" textLength="7.4" lengthAdjust="spacingAndGlyphs">13</text>
<text transform="translate(690.7,474.3) rotate(-90)" x="0" y="0" font-size="7.0" textLength="32.7" lengthAdjust="spacingAndGlyphs">WHT/BLK</text>
<text transform="translate(697.1,582.5) rotate(-90)" x="0" y="0" font-size="8" textLength="73.5" lengthAdjust="spacingAndGlyphs">AMP HIGH L REAR (-)</text>
<text transform="translate(703,492.5) rotate(-90)" x="0" y="0" font-size="7.6" textLength="8.4" lengthAdjust="spacingAndGlyphs">C3</text>
<text x="7" y="623.8" font-size="8" textLength="23.2" lengthAdjust="spacingAndGlyphs">113769</text></g>
</svg></body></html>
